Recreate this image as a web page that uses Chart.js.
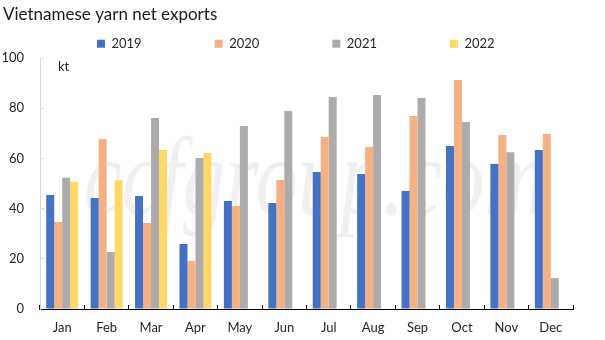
<!DOCTYPE html>
<html><head><meta charset="utf-8">
<script src="https://cdn.jsdelivr.net/npm/chart.js@4.4.0/dist/chart.umd.min.js"></script>
<style>html,body{margin:0;padding:0;background:#fff}#wrap{width:605px;height:340px;position:relative}</style>
</head><body><div id="wrap"><canvas id="c"></canvas></div>
<script>
const months = ['Jan','Feb','Mar','Apr','May','Jun','Jul','Aug','Sep','Oct','Nov','Dec'];
const seriesNames = ['2019','2020','2021','2022'];
const y2019 = [45.4,44.2,45.0,25.9,43.0,42.2,54.6,53.8,47.0,64.9,57.8,63.3];
const y2020 = [34.7,67.7,34.3,19.1,41.0,51.4,68.5,64.5,76.9,91.2,69.3,69.7];
const y2021 = [52.3,22.7,76.1,60.2,72.9,78.9,84.5,85.3,84.1,74.5,62.5,12.3];
const y2022 = [50.7,51.4,63.3,62.2,null,null,null,null,null,null,null,null];
const yTicks = [0,20,40,60,80,100];
const unitLabel = 'kt';
const titleText = 'Vietnamese yarn net exports';
const watermark = 'ccfgroup.com';

const colors = ['#4472C4','#F4B183','#AFABAB','#FFD966'];
const FONT = 'Lato, "Open Sans", sans-serif';
const LEG_PAD = 73;

const extras = {
  id: 'extras',
  beforeDraw(chart) {
    const lg = chart.legend;
    lg.left = 97 - LEG_PAD;
    lg.top = 37.2 - LEG_PAD;
  },
  beforeDatasetsDraw(chart) {
    const ctx = chart.ctx;
    ctx.save();
    ctx.font = 'italic 85px "Liberation Serif", serif';
    ctx.fillStyle = 'rgba(0,0,0,0.06)';
    ctx.textBaseline = 'alphabetic';
    ctx.translate(84, 214);
    ctx.scale(1, 1.3);
    ctx.fillText(watermark, 0, 0);
    ctx.restore();
    const y = chart.scales.y;
    ctx.save();
    ctx.font = '13px ' + FONT;
    ctx.fillStyle = '#262626';
    ctx.textBaseline = 'middle';
    ctx.textAlign = 'left';
    ctx.fillText(unitLabel, chart.chartArea.left + 18, y.getPixelForValue(96.4));
    ctx.restore();
  }
};

new Chart(document.getElementById('c'), {
  type: 'bar',
  data: {
    labels: months,
    datasets: [y2019, y2020, y2021, y2022].map((d, i) => ({
      label: seriesNames[i],
      data: d,
      backgroundColor: colors[i],
      borderWidth: 0,
      categoryPercentage: 0.72,
      barPercentage: 1.0
    }))
  },
  options: {
    responsive: true,
    maintainAspectRatio: false,
    animation: false,
    events: [],
    layout: { padding: { left: 3, right: 32, top: 0, bottom: 0 } },
    plugins: {
      title: {
        display: true,
        text: titleText,
        align: 'start',
        color: '#1a1a1a',
        font: { family: FONT, size: 17, weight: 'normal' },
        padding: { top: 4, bottom: 0 }
      },
      legend: {
        display: true,
        position: 'top',
        align: 'start',
        maxHeight: 33.6,
        labels: {
          boxWidth: 8, boxHeight: 8, padding: LEG_PAD,
          color: '#262626',
          font: { family: FONT, size: 13 }
        }
      },
      tooltip: { enabled: false }
    },
    scales: {
      x: {
        grid: { display: true, drawOnChartArea: false, drawTicks: true, tickLength: -4, tickColor: '#000', offset: true },
        border: { display: true, color: '#000', width: 1 },
        ticks: { color: '#262626', font: { family: FONT, size: 13 }, padding: 15, maxRotation: 0, autoSkip: false },
        afterFit(s) { s.height = 31; }
      },
      y: {
        min: 0, max: 100,
        afterBuildTicks(s) { s.ticks = yTicks.map(v => ({ value: v })); },
        grid: { display: true, drawOnChartArea: false, drawTicks: true, tickLength: -4, tickColor: '#d9d9d9' },
        border: { display: true, color: '#d9d9d9', width: 1 },
        ticks: { color: '#262626', font: { family: FONT, size: 13 }, padding: 20 },
        afterFit(s) { s.width = 37; }
      }
    }
  },
  plugins: [extras]
});
</script>
</body></html>
